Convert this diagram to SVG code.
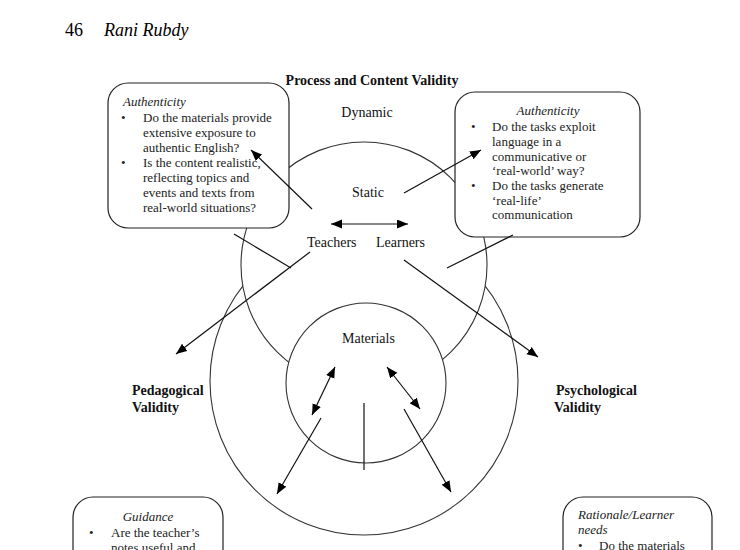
<svg xmlns="http://www.w3.org/2000/svg" width="740" height="550" viewBox="0 0 740 550">
<style>
  .circ { fill: #fff; stroke: #333; stroke-width: 1.1; }
  .box { fill: #fff; stroke: #222; stroke-width: 1.2; }
  .ln { stroke: #111; stroke-width: 1.2; fill: none; }
  .t { font-family: "Liberation Serif", "Times New Roman", serif; font-size: 14px; fill: #111; }
  .bt { font-family: "Liberation Serif", "Times New Roman", serif; font-size: 13px; fill: #222; }
  .it { font-style: italic; }
  .b { font-weight: bold; }
  .hd { font-family: "Liberation Serif", "Times New Roman", serif; font-size: 18px; fill: #000; }
</style>
<defs>
  <marker id="ah" markerUnits="userSpaceOnUse" markerWidth="12" markerHeight="10" refX="11" refY="4.5" orient="auto-start-reverse" viewBox="0 0 12 10">
    <path d="M0,0 L11,4.5 L0,9 z" fill="#000"/>
  </marker>
</defs>
<rect width="740" height="550" fill="#fff"/>

<g id="header">
  <text class="hd" x="65" y="36">46</text>
  <text class="hd it" x="104" y="36">Rani Rubdy</text>
</g>

<g id="circles">
  <circle id="outer" class="circ" cx="364" cy="381" r="154"/>
  <circle id="upper" class="circ" cx="364" cy="265" r="123"/>
  <circle id="materials-circle" class="circ" cx="366" cy="383" r="80"/>
</g>

<g id="box-auth-left">
  <rect class="box" x="108" y="83" width="181" height="145" rx="20"/>
  <text class="bt it" x="123" y="106">Authenticity</text>
  <text class="bt" x="121" y="122">•</text>
  <text class="bt" x="143" y="122">Do the materials provide</text>
  <text class="bt" x="143" y="137">extensive exposure to</text>
  <text class="bt" x="143" y="152">authentic English?</text>
  <text class="bt" x="121" y="167">•</text>
  <text class="bt" x="143" y="167">Is the content realistic,</text>
  <text class="bt" x="143" y="182">reflecting topics and</text>
  <text class="bt" x="143" y="197">events and texts from</text>
  <text class="bt" x="143" y="212">real-world situations?</text>
</g>

<g id="box-auth-right">
  <rect class="box" x="455" y="92" width="185" height="145" rx="20"/>
  <text class="bt it" x="548" y="115" text-anchor="middle">Authenticity</text>
  <text class="bt" x="471" y="131">•</text>
  <text class="bt" x="492" y="131">Do the tasks exploit</text>
  <text class="bt" x="492" y="146">language in a</text>
  <text class="bt" x="492" y="161">communicative or</text>
  <text class="bt" x="492" y="175">‘real-world’ way?</text>
  <text class="bt" x="471" y="190">•</text>
  <text class="bt" x="492" y="190">Do the tasks generate</text>
  <text class="bt" x="492" y="205">‘real-life’</text>
  <text class="bt" x="492" y="219">communication</text>
</g>

<g id="box-guidance">
  <rect class="box" x="73" y="497" width="150" height="90" rx="20"/>
  <text class="bt it" x="148" y="521" text-anchor="middle">Guidance</text>
  <text class="bt" x="89" y="537">•</text>
  <text class="bt" x="111" y="537">Are the teacher’s</text>
  <text class="bt" x="111" y="552">notes useful and</text>
</g>

<g id="box-rationale">
  <rect class="box" x="563" y="497" width="149" height="90" rx="20"/>
  <text class="bt it" x="578" y="519">Rationale/Learner</text>
  <text class="bt it" x="578" y="534">needs</text>
  <text class="bt" x="578" y="550">•</text>
  <text class="bt" x="599" y="550">Do the materials</text>
</g>

<g id="labels">
  <text class="t b" x="372" y="85" text-anchor="middle">Process and Content Validity</text>
  <text class="t" x="367" y="117" text-anchor="middle">Dynamic</text>
  <text class="t" x="368" y="197" text-anchor="middle">Static</text>
  <text class="t" x="307" y="247">Teachers</text>
  <text class="t" x="376" y="247">Learners</text>
  <text class="t" x="342" y="343">Materials</text>
  <text class="t b" x="132" y="395">Pedagogical</text>
  <text class="t b" x="132" y="412">Validity</text>
  <text class="t b" x="556" y="395">Psychological</text>
  <text class="t b" x="554" y="412">Validity</text>
</g>

<g id="connectors">
  <line class="ln" x1="312" y1="209" x2="251" y2="150" marker-end="url(#ah)"/>
  <line class="ln" x1="404" y1="193" x2="481" y2="150" marker-end="url(#ah)"/>
  <line class="ln" x1="331" y1="224" x2="408" y2="224" marker-start="url(#ah)" marker-end="url(#ah)"/>
  <line class="ln" x1="234" y1="234" x2="291" y2="268"/>
  <line class="ln" x1="310" y1="252" x2="176" y2="354" marker-end="url(#ah)"/>
  <line class="ln" x1="513" y1="235" x2="447" y2="268"/>
  <line class="ln" x1="404" y1="260" x2="538" y2="357" marker-end="url(#ah)"/>
  <line class="ln" x1="335" y1="367" x2="312" y2="415" marker-start="url(#ah)" marker-end="url(#ah)"/>
  <line class="ln" x1="387" y1="367" x2="420" y2="409" marker-start="url(#ah)" marker-end="url(#ah)"/>
  <line class="ln" x1="321" y1="418" x2="277" y2="494" marker-end="url(#ah)"/>
  <line class="ln" x1="404" y1="409" x2="451" y2="492" marker-end="url(#ah)"/>
  <line class="ln" x1="364" y1="403" x2="364" y2="470"/>
</g>
</svg>
